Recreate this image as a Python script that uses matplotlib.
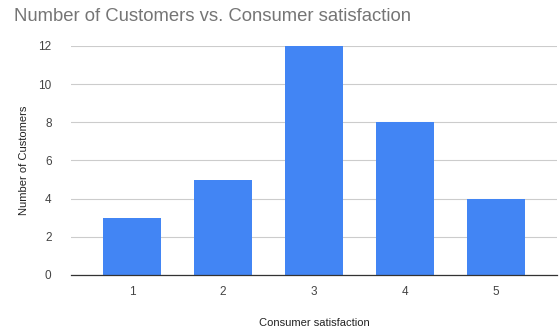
import matplotlib
matplotlib.use("Agg")
import matplotlib.pyplot as plt

# donnees
satisfaction = [1, 2, 3, 4, 5]
customers = [3, 5, 12, 8, 4]
yticks = [0, 2, 4, 6, 8, 10, 12]

plt.rcParams['font.family'] = ['Liberation Sans', 'DejaVu Sans']

fig = plt.figure(figsize=(5.59, 3.28), dpi=100)
ax = fig.add_axes([0.127, 0.1616, 0.869, 0.6984])

ax.bar(satisfaction, customers, width=0.64, color='#4285F4', zorder=3)

ax.set_xlim(0.33, 5.67)
ax.set_ylim(0, 12)
ax.set_yticks(yticks)
ax.set_xticks(satisfaction)
ax.tick_params(axis='both', length=0, labelsize=8.5, labelcolor='#444444')
ax.tick_params(axis='y', pad=14)
ax.tick_params(axis='x', pad=8)

# grille horizontale
ax.grid(axis='y', color='#cccccc', linewidth=0.8, zorder=0)
for s in ['top', 'right', 'left']:
    ax.spines[s].set_visible(False)
ax.spines['bottom'].set_color('#333333')
ax.spines['bottom'].set_linewidth(0.9)
ax.spines['bottom'].set_zorder(4)

ax.set_xlabel("Consumer satisfaction", fontsize=8, color='#222222', labelpad=14)
ax.set_ylabel("Number of Customers", fontsize=8, color='#222222', labelpad=7)

fig.text(0.025, 0.951, "Number of Customers vs. Consumer satisfaction",
         fontsize=13.3, color='#757575', va='center', ha='left')

fig.savefig("out.png", dpi=100)
